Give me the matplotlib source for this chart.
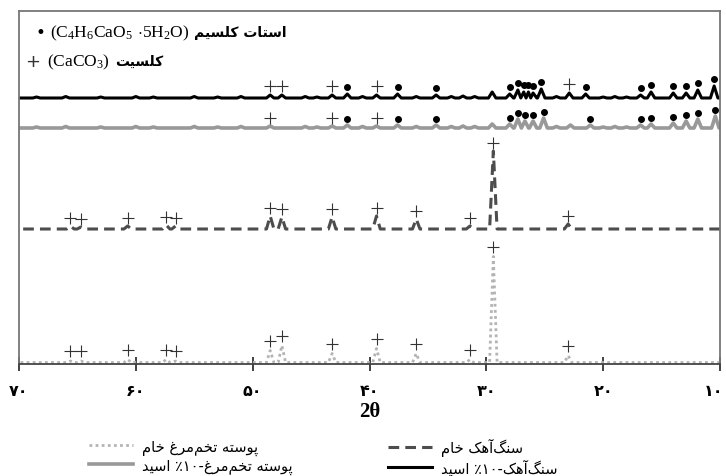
import re
import numpy as np
import matplotlib
matplotlib.use('Agg')
import matplotlib.pyplot as plt
from matplotlib.transforms import ScaledTranslation

# --- data (2theta in degrees, peak heights in arbitrary units) ---
calcite_pos = [65.6, 64.7, 60.7, 57.4, 56.6, 48.5, 47.5, 43.2, 39.4, 36.0, 31.4, 29.4, 23.0]
egg_raw_int = [1.5, 1.5, 3, 3, 1.5, 12, 17, 9, 14, 9, 3, 106, 7]
lime_raw_int = [3, 2, 3, 4, 3, 13, 12, 12, 13, 10, 3, 78, 5]

egg_acid_pos = [48.5, 43.2, 41.9, 39.4, 37.6, 34.3, 29.5, 28.0, 27.3, 26.7, 26.0, 25.1,
                22.8, 21.1, 16.8, 15.9, 14.0, 12.9, 11.9, 10.4]
egg_acid_int = [2, 2, 3, 2, 3, 3, 4, 4, 9, 7, 7, 10, 3, 3, 3, 4, 5, 7, 9, 12]
egg_acid_plus = [48.5, 43.2, 39.4]
egg_acid_dot = [41.9, 37.6, 34.3, 28.0, 27.3, 26.7, 26.0, 25.1, 21.1, 16.8, 15.9,
                14.0, 12.9, 11.9, 10.4]

lime_acid_pos = [48.5, 47.5, 43.2, 41.9, 39.4, 37.6, 34.3, 29.5, 28.0, 27.3, 26.8, 26.4,
                 26.0, 25.3, 22.9, 21.5, 16.8, 15.9, 14.0, 12.9, 11.9, 10.5]
lime_acid_int = [3, 3, 3, 4, 3, 4, 3, 6, 4, 8, 6, 6, 5, 9, 5, 4, 3, 6, 5, 5, 8, 12]
lime_acid_plus = [48.5, 47.5, 43.2, 39.4, 22.9]
lime_acid_dot = [41.9, 37.6, 34.3, 28.0, 27.3, 26.8, 26.4, 26.0, 25.3, 21.5, 16.8, 15.9,
                 14.0, 12.9, 11.9, 10.5]

# small wiggles of the baseline in the two acid traces
ripple_pos = [68.5, 66.0, 63.0, 60.0, 58.5, 55.0, 53.0, 51.0, 45.5, 44.5, 40.6, 36.0,
              33.0, 32.0, 31.0, 24.0, 20.0, 19.0, 18.0]
ripple_int = [1, 1.5, 1, 1.5, 1, 1.5, 1, 1.5, 1.5, 1, 1.5, 1.5, 1.5, 2, 1.5, 1.5, 1, 1.5, 1]

ticks = [70, 60, 50, 40, 30, 20, 10]
tick_labels = ['۷۰', '۶۰', '۵۰', '۴۰', '۳۰', '۲۰', '۱۰']

# vertical offsets of the stacked traces
off_egg_raw, off_lime_raw, off_egg_acid, off_lime_acid = 1.5, 135, 236, 266

# --- persian shaping (matplotlib does no arabic joining) ---
FORMS = {  # isolated, final, initial, medial
    'ا': ('\uFE8D', '\uFE8E', None, None),
    'آ': ('\uFE81', '\uFE82', None, None),
    'پ': ('\uFB56', '\uFB57', '\uFB58', '\uFB59'),
    'ت': ('\uFE95', '\uFE96', '\uFE97', '\uFE98'),
    'خ': ('\uFEA5', '\uFEA6', '\uFEA7', '\uFEA8'),
    'د': ('\uFEA9', '\uFEAA', None, None),
    'ر': ('\uFEAD', '\uFEAE', None, None),
    'س': ('\uFEB1', '\uFEB2', '\uFEB3', '\uFEB4'),
    'غ': ('\uFECD', '\uFECE', '\uFECF', '\uFED0'),
    'ک': ('\uFB8E', '\uFB8F', '\uFB90', '\uFB91'),
    'گ': ('\uFB92', '\uFB93', '\uFB94', '\uFB95'),
    'ل': ('\uFEDD', '\uFEDE', '\uFEDF', '\uFEE0'),
    'م': ('\uFEE1', '\uFEE2', '\uFEE3', '\uFEE4'),
    'ن': ('\uFEE5', '\uFEE6', '\uFEE7', '\uFEE8'),
    'ه': ('\uFEE9', '\uFEEA', '\uFEEB', '\uFEEC'),
    'و': ('\uFEED', '\uFEEE', None, None),
    'ی': ('\uFBFC', '\uFBFD', '\uFBFE', '\uFBFF'),
}


def fa(s):
    out = []
    for i, c in enumerate(s):
        if c not in FORMS:
            if c != '\u200c':
                out.append(c)
            continue
        prev = s[i - 1] if i > 0 else ''
        nxt = s[i + 1] if i + 1 < len(s) else ''
        a = prev in FORMS and FORMS[prev][2] is not None
        b = nxt in FORMS and FORMS[c][2] is not None
        iso, fin, ini, med = FORMS[c]
        out.append(med if a and b else fin if a else ini if b else iso)
    runs = re.findall(r'[0-9\u06f0-\u06f9]+|[^0-9\u06f0-\u06f9]', ''.join(out))
    return ''.join(reversed(runs))


def trace(pos, hts, w=0.32):
    p = np.asarray(pos, float)
    h = np.asarray(hts, float)
    o = np.argsort(p)
    p, h = p[o], h[o]
    xs, ys = [10.0], [0.0]
    for i in range(len(p)):
        lo = p[i] - w if i == 0 else max(p[i] - w, (p[i - 1] + p[i]) / 2)
        hi = p[i] + w if i == len(p) - 1 else min(p[i] + w, (p[i] + p[i + 1]) / 2)
        xs += [lo, p[i], hi]
        ys += [0.0, h[i], 0.0]
    xs.append(70.0)
    ys.append(0.0)
    return np.array(xs), np.array(ys)


def mark_y(pos, hts, sel, off, gap):
    d = dict(zip(pos, hts))
    return [off + d[s] + gap for s in sel]


plt.rcParams['mathtext.fontset'] = 'custom'
plt.rcParams['mathtext.rm'] = 'Liberation Serif'

W, H = 726, 477
fig = plt.figure(figsize=(W / 100, H / 100), dpi=100)
ax = fig.add_axes([19 / W, 1 - 365 / H, 701 / W, 353 / H])

# traces
x, y = trace(calcite_pos, egg_raw_int)
l_egg_raw, = ax.plot(x, y + off_egg_raw, color='#b4b4b4', lw=2.0, ls=(0, (1, 1.2)))
x, y = trace(calcite_pos, lime_raw_int)
l_lime_raw, = ax.plot(x, y + off_lime_raw, color='#4d4d4d', lw=2.2, ls=(0, (3.5, 2)))
x, y = trace(egg_acid_pos + ripple_pos, egg_acid_int + ripple_int)
l_egg_acid, = ax.plot(x, y + off_egg_acid, color='#999999', lw=2.6)
x, y = trace(lime_acid_pos + ripple_pos, lime_acid_int + ripple_int)
l_lime_acid, = ax.plot(x, y + off_lime_acid, color='black', lw=2.2)

# phase markers
pk = dict(marker='+', color='#333333', ms=9, mew=0.8, ls='none')
dt = dict(marker='o', color='black', ms=4, ls='none')
ax.plot(calcite_pos, mark_y(calcite_pos, egg_raw_int, calcite_pos, off_egg_raw, 10), **pk)
ax.plot(calcite_pos, mark_y(calcite_pos, lime_raw_int, calcite_pos, off_lime_raw, 8), **pk)
ax.plot(egg_acid_plus, mark_y(egg_acid_pos, egg_acid_int, egg_acid_plus, off_egg_acid, 8), **pk)
ax.plot(egg_acid_dot, mark_y(egg_acid_pos, egg_acid_int, egg_acid_dot, off_egg_acid, 6), **dt)
ax.plot(lime_acid_plus, mark_y(lime_acid_pos, lime_acid_int, lime_acid_plus, off_lime_acid, 9), **pk)
ax.plot(lime_acid_dot, mark_y(lime_acid_pos, lime_acid_int, lime_acid_dot, off_lime_acid, 7), **dt)

ax.set_xlim(70, 10)
ax.set_ylim(0, 353)
ax.set_yticks([])
ax.set_xticks(ticks)
ax.set_xticklabels(tick_labels, fontweight='bold', fontsize=11.5)
ax.tick_params(axis='x', direction='inout', length=10, width=1.3, color='#333333', pad=9)
# last label sits against the right edge
last = ax.get_xticklabels()[-1]
last.set_horizontalalignment('right')
last.set_transform(last.get_transform() + ScaledTranslation(3 / 100, 0, fig.dpi_scale_trans))
for s in ax.spines.values():
    s.set_color('#777777')
    s.set_linewidth(1.3)
ax.spines['bottom'].set_color('#444444')
ax.set_xlabel('2θ', fontfamily='Liberation Serif', fontweight='bold', fontsize=15, labelpad=2)

# phase key, top left: pieces placed one after another
rend = fig.canvas.get_renderer()


def after(t, gap):
    bb = t.get_window_extent(rend)
    return (bb.x1 + gap) / W


y1, y2 = 1 - 33 / H, 1 - 62 / H
fig.text(40 / W, y1, '•', ha='center', va='center', fontsize=12)
t = fig.text(50 / W, y1, r'$\mathrm{(C_4H_6CaO_5\ {\cdot}5H_2O)}$', ha='left', va='center', fontsize=12.5)
fig.text(after(t, 5), y1, fa('استات کلسیم'), ha='left', va='center', fontsize=10, fontweight='bold')
fig.text(33 / W, y2, '+', ha='center', va='center', fontsize=13, color='#333333')
t = fig.text(47 / W, y2, r'$\mathrm{(CaCO_3)}$', ha='left', va='center', fontsize=12.5)
fig.text(after(t, 5), y2, fa('کلسیت'), ha='left', va='center', fontsize=10, fontweight='bold')

# series legend below
kw = dict(frameon=False, fontsize=10.5, handlelength=3.0, handletextpad=0.6, borderpad=0,
          labelspacing=0.2, loc='upper left')
fig.legend([l_egg_raw, l_egg_acid], [fa('پوسته تخم‌مرغ خام'), fa('پوسته تخم‌مرغ-۱۰٪ اسید')],
           bbox_to_anchor=(82 / W, 1 - 432 / H), **kw)
fig.legend([l_lime_raw, l_lime_acid], [fa('سنگ‌آهک خام'), fa('سنگ‌آهک-۱۰٪ اسید')],
           bbox_to_anchor=(381 / W, 1 - 432 / H), **kw)

fig.savefig('out.png', dpi=100)
